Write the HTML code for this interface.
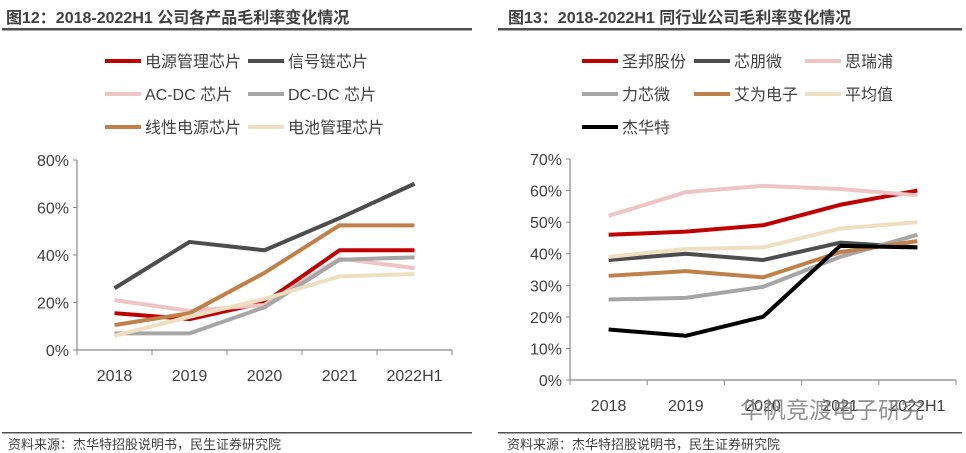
<!DOCTYPE html>
<html><head><meta charset="utf-8"><style>
body{margin:0;background:#fff;width:966px;height:453px;overflow:hidden;font-family:"Liberation Sans","Noto Sans CJK SC",sans-serif}
svg{position:absolute;left:0;top:0}
</style></head><body>
<svg id="s" width="966" height="453">
<text x="6" y="23" font-size="16" font-weight="bold" fill="#404040">图12：2018-2022H1 公司各产品毛利率变化情况</text>
<rect x="2" y="28" width="470" height="2.5" fill="#505050"/>
<text x="508" y="23" font-size="16" font-weight="bold" fill="#404040">图13：2018-2022H1 同行业公司毛利率变化情况</text>
<rect x="498" y="28" width="464" height="2.5" fill="#505050"/>
<rect x="2" y="432" width="470" height="1.5" fill="#505050"/>
<rect x="498" y="432" width="464" height="1.5" fill="#505050"/>
<text x="8" y="449" font-size="13" fill="#404040">资料来源：杰华特招股说明书，民生证券研究院</text>
<text x="507" y="449" font-size="13" fill="#404040">资料来源：杰华特招股说明书，民生证券研究院</text>
<g id="L"></g><g id="R"></g>
<text x="740" y="418" font-size="23" fill="#808080" opacity="0.85">华帆竞渡电子研究</text>
</svg>
<script>
const categories=["2018","2019","2020","2021","2022H1"];
const leftNames=["电源管理芯片","信号链芯片","AC-DC 芯片","DC-DC 芯片","线性电源芯片","电池管理芯片"];
const leftColors=["#c00000","#4d4d4d","#eec4c4","#a6a6a6","#c0804a","#eedfc0"];
const leftPower=[15.5,13,20,42,42];
const leftSignal=[26,45.5,42,55.5,70];
const leftACDC=[21,16.5,19,38.5,34.5];
const leftDCDC=[7,7,18,38,39];
const leftLinear=[10.5,15.5,32.5,52.5,52.5];
const leftBattery=[6,14,21.5,31,32];
const leftTicks=[0,20,40,60,80];
const rightNames=["圣邦股份","芯朋微","思瑞浦","力芯微","艾为电子","平均值","杰华特"];
const rightColors=["#c00000","#4d4d4d","#eec4c4","#a6a6a6","#c0804a","#eedfc0","#000000"];
const rightSG=[46,47,49,55.5,60];
const rightXPW=[38,40,38,43.5,42];
const rightSRP=[52,59.5,61.5,60.5,58.5];
const rightLXW=[25.5,26,29.5,39,46];
const rightAW=[33,34.5,32.5,40.5,44];
const rightAvg=[39,41.5,42,48,50];
const rightJHT=[16,14,20,42.5,42];
const rightTicks=[0,10,20,30,40,50,60,70];
const NS="http://www.w3.org/2000/svg";
function mk(p,t,a){const e=document.createElementNS(NS,t);for(const k in a)e.setAttribute(k,a[k]);p.appendChild(e);return e;}
function draw(g,cfg){
  const {x0,x1,y0,y1,max,ticks,series,names,colors,legend}=cfg;
  const bw=(x1-x0)/categories.length;
  const X=i=>x0+bw*(i+0.5), Y=v=>y0-(v/max)*(y0-y1);
  let a=mk(g,"line",{x1:x0,y1:y1,x2:x0,y2:y0,stroke:"#888","stroke-width":1.2});
  
  
  a=mk(g,"line",{x1:x0,y1:y0,x2:x1,y2:y0,stroke:"#888","stroke-width":1.2});
  
  
  ticks.forEach(t=>{
    mk(g,"line",{x1:x0-4,y1:Y(t),x2:x0,y2:Y(t),stroke:"#888"});
    const tx=mk(g,"text",{x:x0-8,y:Y(t)+6,"text-anchor":"end","font-size":16,fill:"#404040"});
    tx.textContent=t+"%";
    
    
  });
  for(let i=0;i<=categories.length;i++)mk(g,"line",{x1:x0+bw*i,y1:y0,x2:x0+bw*i,y2:y0+5,stroke:"#888"});
  categories.forEach((c,i)=>{
    const tx=mk(g,"text",{x:X(i),y:y0+31,"text-anchor":"middle","font-size":16,fill:"#404040"});
    tx.textContent=c;
    
    
  });
  series.forEach((s,k)=>{
    const p=mk(g,"polyline",{points:s.map((v,i)=>X(i)+","+Y(v)).join(" "),fill:"none",stroke:colors[k],"stroke-width":4,"stroke-linejoin":"round"});
    
    
  });
  names.forEach((n,k)=>{
    const [lx,ly]=legend[k];
    const l=mk(g,"line",{x1:lx,y1:ly,x2:lx+36,y2:ly,stroke:colors[k],"stroke-width":4});
    
    
    const t=mk(g,"text",{x:lx+40,y:ly+6,"font-size":16,fill:"#404040"});
    t.textContent=n;
    
    
  });
}
draw(document.getElementById("L"),{x0:77,x1:452,y0:350,y1:160,max:80,ticks:leftTicks,
 series:[leftPower,leftSignal,leftACDC,leftDCDC,leftLinear,leftBattery],names:leftNames,colors:leftColors,
 legend:[[105,61],[248,61],[105,94],[248,94],[105,127],[248,127]]});
draw(document.getElementById("R"),{x0:570,x1:956,y0:380,y1:159,max:70,ticks:rightTicks,
 series:[rightSG,rightXPW,rightSRP,rightLXW,rightAW,rightAvg,rightJHT],names:rightNames,colors:rightColors,
 legend:[[582,61],[694,61],[805,61],[582,94],[694,94],[805,94],[582,127]]});
</script>
</body></html>
